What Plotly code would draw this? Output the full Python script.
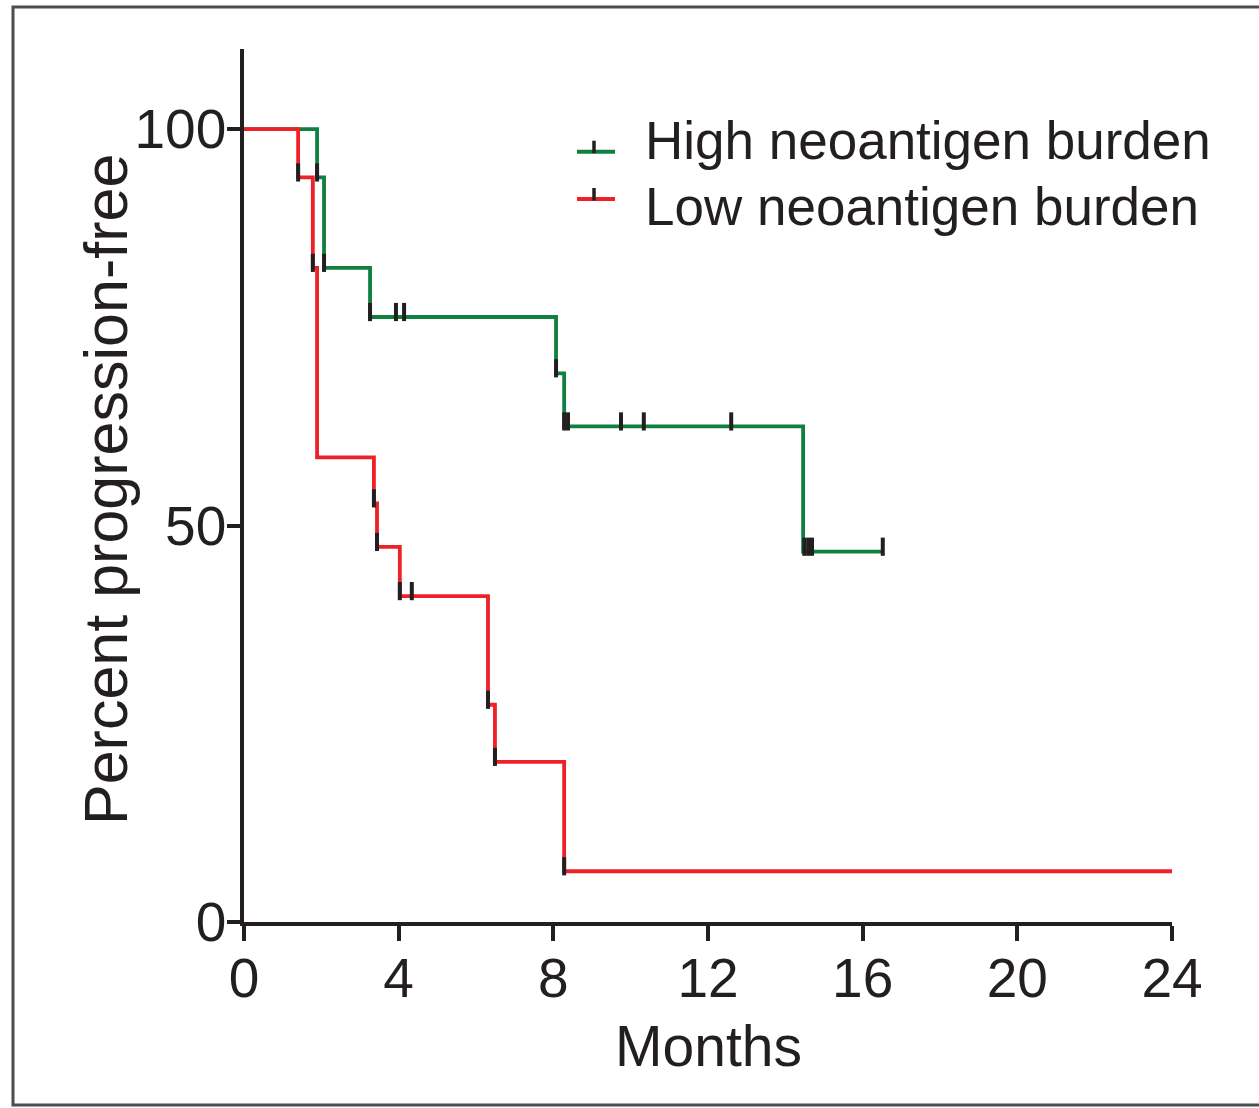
import numpy as np
import plotly.graph_objects as go

# ---- data ----
high_times = [0, 1.89, 2.07, 3.26, 8.07, 8.28, 14.46, 16.52]
high_surv = [100, 93.9, 82.5, 76.3, 69.2, 62.5, 46.7, 46.7]
high_censor = [1.89, 2.07, 3.26, 3.93, 4.14, 8.07, 8.28, 8.38, 9.75, 10.34, 12.6,
               14.49, 14.59, 14.69, 16.52]

low_times = [0, 1.40, 1.78, 1.89, 3.36, 3.44, 4.03, 6.31, 6.49, 8.28, 24]
low_surv = [100, 93.9, 82.5, 58.6, 52.8, 47.3, 41.1, 27.4, 20.2, 6.4, 6.4]
low_censor = [1.40, 1.78, 3.36, 3.44, 4.03, 4.34, 6.31, 6.49, 8.28]

series_names = ["High neoantigen burden", "Low neoantigen burden"]
x_ticks = [0, 4, 8, 12, 16, 20, 24]
y_ticks = [0, 50, 100]

GREEN = "#0f8040"
RED = "#ee2028"
INK = "#231f20"
REG = "Liberation Sans, Arial, sans-serif"

W, H = 1259, 1108
L, R, T, B = 244, 87, 49, 186
PW, PH = W - L - R, H - T - B
Y_MAX = 110.1


def xp(px):
    return (px - L) / PW


def yp(py):
    return (H - B - py) / PH


def step_value(times, surv, t):
    idx = np.searchsorted(np.array(times), np.array(t), side="right") - 1
    return np.array(surv)[idx]


tick_offset = 5 * Y_MAX / PH  # censor tick sits just above the line

fig = go.Figure()
for times, surv, cens, col in [(high_times, high_surv, high_censor, GREEN),
                               (low_times, low_surv, low_censor, RED)]:
    fig.add_trace(go.Scatter(x=times, y=surv, mode="lines", line=dict(color=col, width=3.8, shape="hv"),
                             showlegend=False, hoverinfo="skip"))
    fig.add_trace(go.Scatter(x=cens, y=step_value(times, surv, cens) + tick_offset, mode="markers",
                             marker=dict(symbol="line-ns", size=13, line=dict(color=INK, width=4)),
                             showlegend=False, cliponaxis=False, hoverinfo="skip"))

shapes = [
    dict(type="rect", xref="paper", yref="paper", x0=xp(13), x1=xp(1262), y0=yp(7), y1=yp(1105),
         line=dict(color="#4d4d4d", width=3), fillcolor="rgba(0,0,0,0)", layer="below"),
]
annotations = []
for name, col, ly, ty in [(series_names[0], GREEN, 151.7, 140.5), (series_names[1], RED, 199, 206)]:
    shapes.append(dict(type="line", xref="paper", yref="paper", x0=xp(577), x1=xp(615), y0=yp(ly), y1=yp(ly),
                       line=dict(color=col, width=4)))
    shapes.append(dict(type="line", xref="paper", yref="paper", x0=xp(594), x1=xp(594), y0=yp(ly + 1.5),
                       y1=yp(ly - 11), line=dict(color=INK, width=3.5)))
    annotations.append(dict(text=name, xref="paper", yref="paper", x=xp(643), y=yp(ty), xanchor="left",
                            yanchor="middle", showarrow=False, font=dict(family=REG, size=53, color=INK)))

annotations.append(dict(text="Percent progression-free", xref="paper", yref="paper", x=xp(106), y=yp(490),
                        textangle=-90, xanchor="center", yanchor="middle", showarrow=False,
                        font=dict(family=REG, size=61, color=INK)))
annotations.append(dict(text="Months", xref="paper", yref="paper", x=xp(708), y=yp(1046),
                        xanchor="center", yanchor="middle", showarrow=False,
                        font=dict(family=REG, size=57, color=INK)))

fig.update_layout(
    width=W, height=H, margin=dict(l=L, r=R, t=T, b=B),
    paper_bgcolor="white", plot_bgcolor="white",
    shapes=shapes, annotations=annotations,
    xaxis=dict(range=[0, 24], tickvals=x_ticks, ticks="outside", ticklen=15, tickwidth=3.5,
               tickcolor=INK, showline=True, linecolor=INK, linewidth=3.5, showgrid=False,
               zeroline=False, ticklabelstandoff=-10, tickfont=dict(family=REG, size=55, color=INK)),
    yaxis=dict(range=[0, Y_MAX], tickvals=y_ticks, ticks="outside", ticklen=13, tickwidth=3.5,
               tickcolor=INK, showline=True, linecolor=INK, linewidth=3.5, showgrid=False,
               zeroline=False, ticklabelstandoff=-10, tickfont=dict(family=REG, size=55, color=INK)),
)

fig.write_html("out.html")
